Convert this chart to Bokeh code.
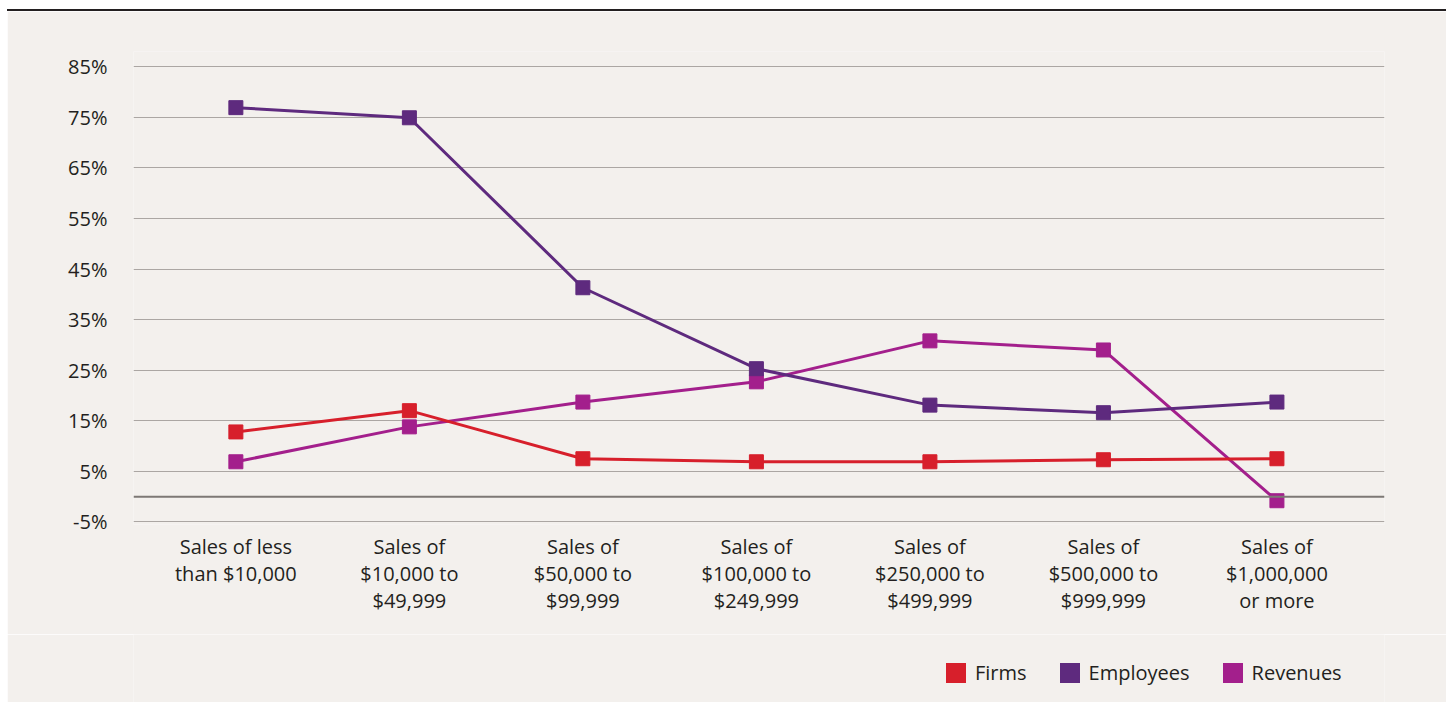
from bokeh.plotting import figure
from bokeh.models import FixedTicker, Legend, LegendItem, Span, ColumnDataSource, LinearAxis, Div
from bokeh.layouts import column
from bokeh.embed import file_html
from bokeh.resources import INLINE

categories = [
    "Sales of less\nthan $10,000",
    "Sales of\n$10,000 to\n$49,999",
    "Sales of\n$50,000 to\n$99,999",
    "Sales of\n$100,000 to\n$249,999",
    "Sales of\n$250,000 to\n$499,999",
    "Sales of\n$500,000 to\n$999,999",
    "Sales of\n$1,000,000\nor more",
]
firms = [12.8, 17.0, 7.5, 6.9, 6.9, 7.3, 7.5]
employees = [76.9, 74.9, 41.3, 25.3, 18.1, 16.6, 18.7]
revenues = [6.9, 13.8, 18.7, 22.7, 30.8, 29.0, -0.8]
y_ticks = [-5, 5, 15, 25, 35, 45, 55, 65, 75, 85]
y_tick_labels = ["-5%", "5%", "15%", "25%", "35%", "45%", "55%", "65%", "75%", "85%"]
series_names = ["Firms", "Employees", "Revenues"]
series_colors = ["#D71F2B", "#5E2A7E", "#A31F8C"]

BG = "#F3F0ED"
TXT = "#231F20"
FONT = "Open Sans"
FS = "20px"

xs = list(range(len(categories)))
cat_lines = [c.split("\n") for c in categories]

W = 1439
p = figure(width=W, height=623, x_range=(-0.59, 6.62), y_range=(-5.5, 88),
           output_backend="svg", toolbar_location=None, margin=0,
           min_border_left=126, min_border_right=62, min_border_top=40, min_border_bottom=110)
p.background_fill_color = BG
p.border_fill_color = BG
p.outline_line_color = None

p.xgrid.visible = False
p.ygrid.ticker = FixedTicker(ticks=y_ticks)
p.ygrid.grid_line_color = "#ABA6A3"
p.ygrid.grid_line_width = 1

p.yaxis.ticker = FixedTicker(ticks=y_ticks)
p.yaxis.major_label_overrides = {t: l for t, l in zip(y_ticks, y_tick_labels)}

# category labels: one axis per text line
p.xaxis.ticker = FixedTicker(ticks=xs)
p.xaxis.major_label_overrides = {i: (ls[0] if len(ls) > 0 else "") for i, ls in zip(xs, cat_lines)}
ax2 = LinearAxis(ticker=FixedTicker(ticks=xs),
                 major_label_overrides={i: (ls[1] if len(ls) > 1 else "") for i, ls in zip(xs, cat_lines)})
ax3 = LinearAxis(ticker=FixedTicker(ticks=xs),
                 major_label_overrides={i: (ls[2] if len(ls) > 2 else " ") for i, ls in zip(xs, cat_lines)})
p.add_layout(ax2, "below")
p.add_layout(ax3, "below")

for ax in [p.xaxis[0], p.yaxis[0], ax2, ax3]:
    ax.axis_line_color = None
    ax.major_tick_line_color = None
    ax.minor_tick_line_color = None
    ax.major_tick_out = 0
    ax.major_tick_in = 0
    ax.minor_tick_out = 0
    ax.minor_tick_in = 0
    ax.major_label_text_font = FONT
    ax.major_label_text_font_size = FS
    ax.major_label_text_color = TXT
p.yaxis.major_label_standoff = 26
p.xaxis[0].major_label_standoff = 8
ax2.major_label_standoff = -3
ax3.major_label_standoff = -3

p.add_layout(Span(location=0, dimension="width", line_color="#7D7875", line_width=2))

data = {"Firms": firms, "Employees": employees, "Revenues": revenues}
order = ["Revenues", "Employees", "Firms"]
for name in order:
    col = series_colors[series_names.index(name)]
    src = ColumnDataSource(dict(x=xs, y=data[name]))
    p.line("x", "y", source=src, line_color=col, line_width=3)
    p.scatter("x", "y", source=src, marker="square", size=14, fill_color=col, line_color=col)

# legend strip (separate small figure so the legend sits inside a frame)
LH = 68
pl = figure(width=W, height=LH, x_range=(0, 1), y_range=(0, 1),
            output_backend="svg", toolbar_location=None, margin=0,
            x_axis_type=None, y_axis_type=None, min_border=0)
pl.background_fill_color = BG
pl.border_fill_color = BG
pl.outline_line_color = None
pl.xgrid.visible = False
pl.ygrid.visible = False

nan = float("nan")
items = []
for name, col in zip(series_names, series_colors):
    r = pl.quad(left=[nan], right=[nan], top=[nan], bottom=[nan], fill_color=col, line_color=None)
    items.append(LegendItem(label=name, renderers=[r]))

legend = Legend(items=items, orientation="horizontal", location=(810, 16))
legend.background_fill_alpha = 0
legend.border_line_alpha = 0
legend.label_text_font = FONT
legend.label_text_font_size = FS
legend.label_text_color = TXT
legend.glyph_width = 25
legend.glyph_height = 25
legend.label_standoff = 7
legend.spacing = 30
legend.margin = 0
legend.padding = 0
pl.add_layout(legend, "center")

top_line = Div(width=W, height=2, margin=0, styles={"background-color": TXT})
layout = column(top_line, p, pl, spacing=0, margin=(9, 6, 0, 7))

open("out.html", "w").write(file_html(layout, INLINE))
